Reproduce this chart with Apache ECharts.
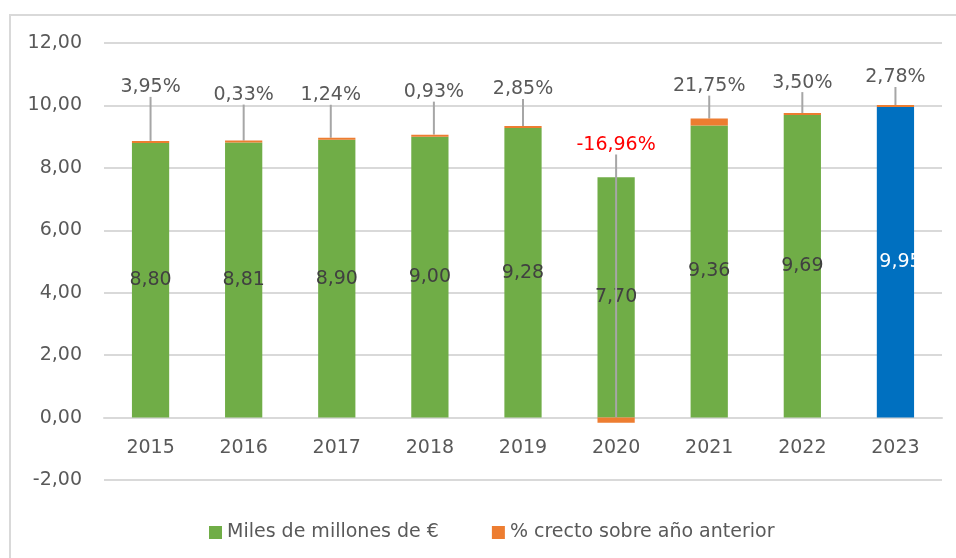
<!DOCTYPE html>
<html>
<head>
<meta charset="utf-8">
<script src="https://cdn.jsdelivr.net/npm/echarts@6/dist/echarts.min.js"></script>
<style>
  html, body { margin: 0; background: #fff; }
  #chart { width: 956px; height: 558px; }
</style>
</head>
<body>
<div id="chart"></div>
<script>
// data
const years = ['2015', '2016', '2017', '2018', '2019', '2020', '2021', '2022', '2023'];
const amounts = [8.80, 8.81, 8.90, 9.00, 9.28, 7.70, 9.36, 9.69, 9.95];
const growthPct = [3.95, 0.33, 1.24, 0.93, 2.85, -16.96, 21.75, 3.50, 2.78];
const yMin = -2, yMax = 12, yStep = 2;
const highlightYear = '2023';

// where the % labels were dragged to in the original (dx, dy in px)
const pctLabelShift = [[0, -39], [0, -31], [-6, -28], [4, -28], [0, -22], [0, -258], [0, -18], [0, -16], [0, -13]];

const fmt = (v, d = 2) => v.toFixed(d).replace('.', ',');
const FONT = '"DejaVu Sans", sans-serif';

const chart = echarts.init(document.getElementById('chart'));

chart.setOption({
  animation: false,
  textStyle: { fontFamily: FONT },
  graphic: [{
    type: 'rect',
    z: -10,
    shape: { x: 10, y: 15, width: 1000, height: 600 },
    style: { fill: 'none', stroke: '#d9d9d9', lineWidth: 2 }
  }],
  grid: { left: 104, right: 14, top: 43, bottom: 78 },
  legend: {
    left: 204,
    top: 518,
    itemWidth: 13,
    itemHeight: 13,
    itemGap: 53,
    icon: 'rect',
    textStyle: { fontSize: 19, color: '#595959', fontFamily: FONT },
    data: ['Miles de millones de €', '% crecto sobre año anterior']
  },
  xAxis: {
    type: 'category',
    data: years,
    axisLine: { onZero: true, lineStyle: { color: '#d9d9d9', width: 2 } },
    axisTick: { show: false },
    axisLabel: { fontSize: 19, color: '#595959', margin: 21, fontFamily: FONT }
  },
  yAxis: {
    type: 'value',
    min: yMin,
    max: yMax,
    interval: yStep,
    axisLine: { show: false },
    axisTick: { show: false },
    splitLine: { lineStyle: { color: '#d9d9d9', width: 2 } },
    axisLabel: { fontSize: 19, color: '#595959', margin: 22, fontFamily: FONT, formatter: v => fmt(v) }
  },
  series: [
    {
      name: 'Miles de millones de €',
      type: 'bar',
      stack: 'total',
      barWidth: '40%',
      itemStyle: { color: '#70ad47' },
      label: {
        show: true,
        position: 'inside',
        fontSize: 19,
        fontFamily: FONT,
        color: '#404040',
        formatter: p => fmt(p.value)
      },
      data: amounts.map((v, i) => years[i] === highlightYear
        ? { value: v, itemStyle: { color: '#0070c0' }, label: { color: '#ffffff', offset: [5, 0] } }
        : v)
    },
    {
      name: '% crecto sobre año anterior',
      type: 'bar',
      stack: 'total',
      barWidth: '40%',
      barMinHeight: 2,
      z: 3,
      itemStyle: { color: '#ed7d31' },
      label: {
        show: true,
        position: 'top',
        fontSize: 19,
        fontFamily: FONT,
        color: '#595959',
        formatter: p => fmt(growthPct[p.dataIndex]) + '%'
      },
      labelLine: { show: true, lineStyle: { color: '#a6a6a6', width: 2 } },
      labelLayout: p => {
        const s = pctLabelShift[p.dataIndex];
        return { dx: s[0], dy: s[1] };
      },
      data: growthPct.map(v => v < 0
        ? { value: v / 100, label: { color: '#ff0000' } }
        : v / 100)
    }
  ]
});

// the category axis sits on the zero line, as in the original
const zeroY = chart.convertToPixel({ yAxisIndex: 0 }, 0);
const bottomY = chart.convertToPixel({ yAxisIndex: 0 }, yMin);
if (Math.abs(bottomY - zeroY) > 1) {
  chart.setOption({ xAxis: { axisLine: { onZero: false }, offset: zeroY - bottomY } });
}
</script>
</body>
</html>
